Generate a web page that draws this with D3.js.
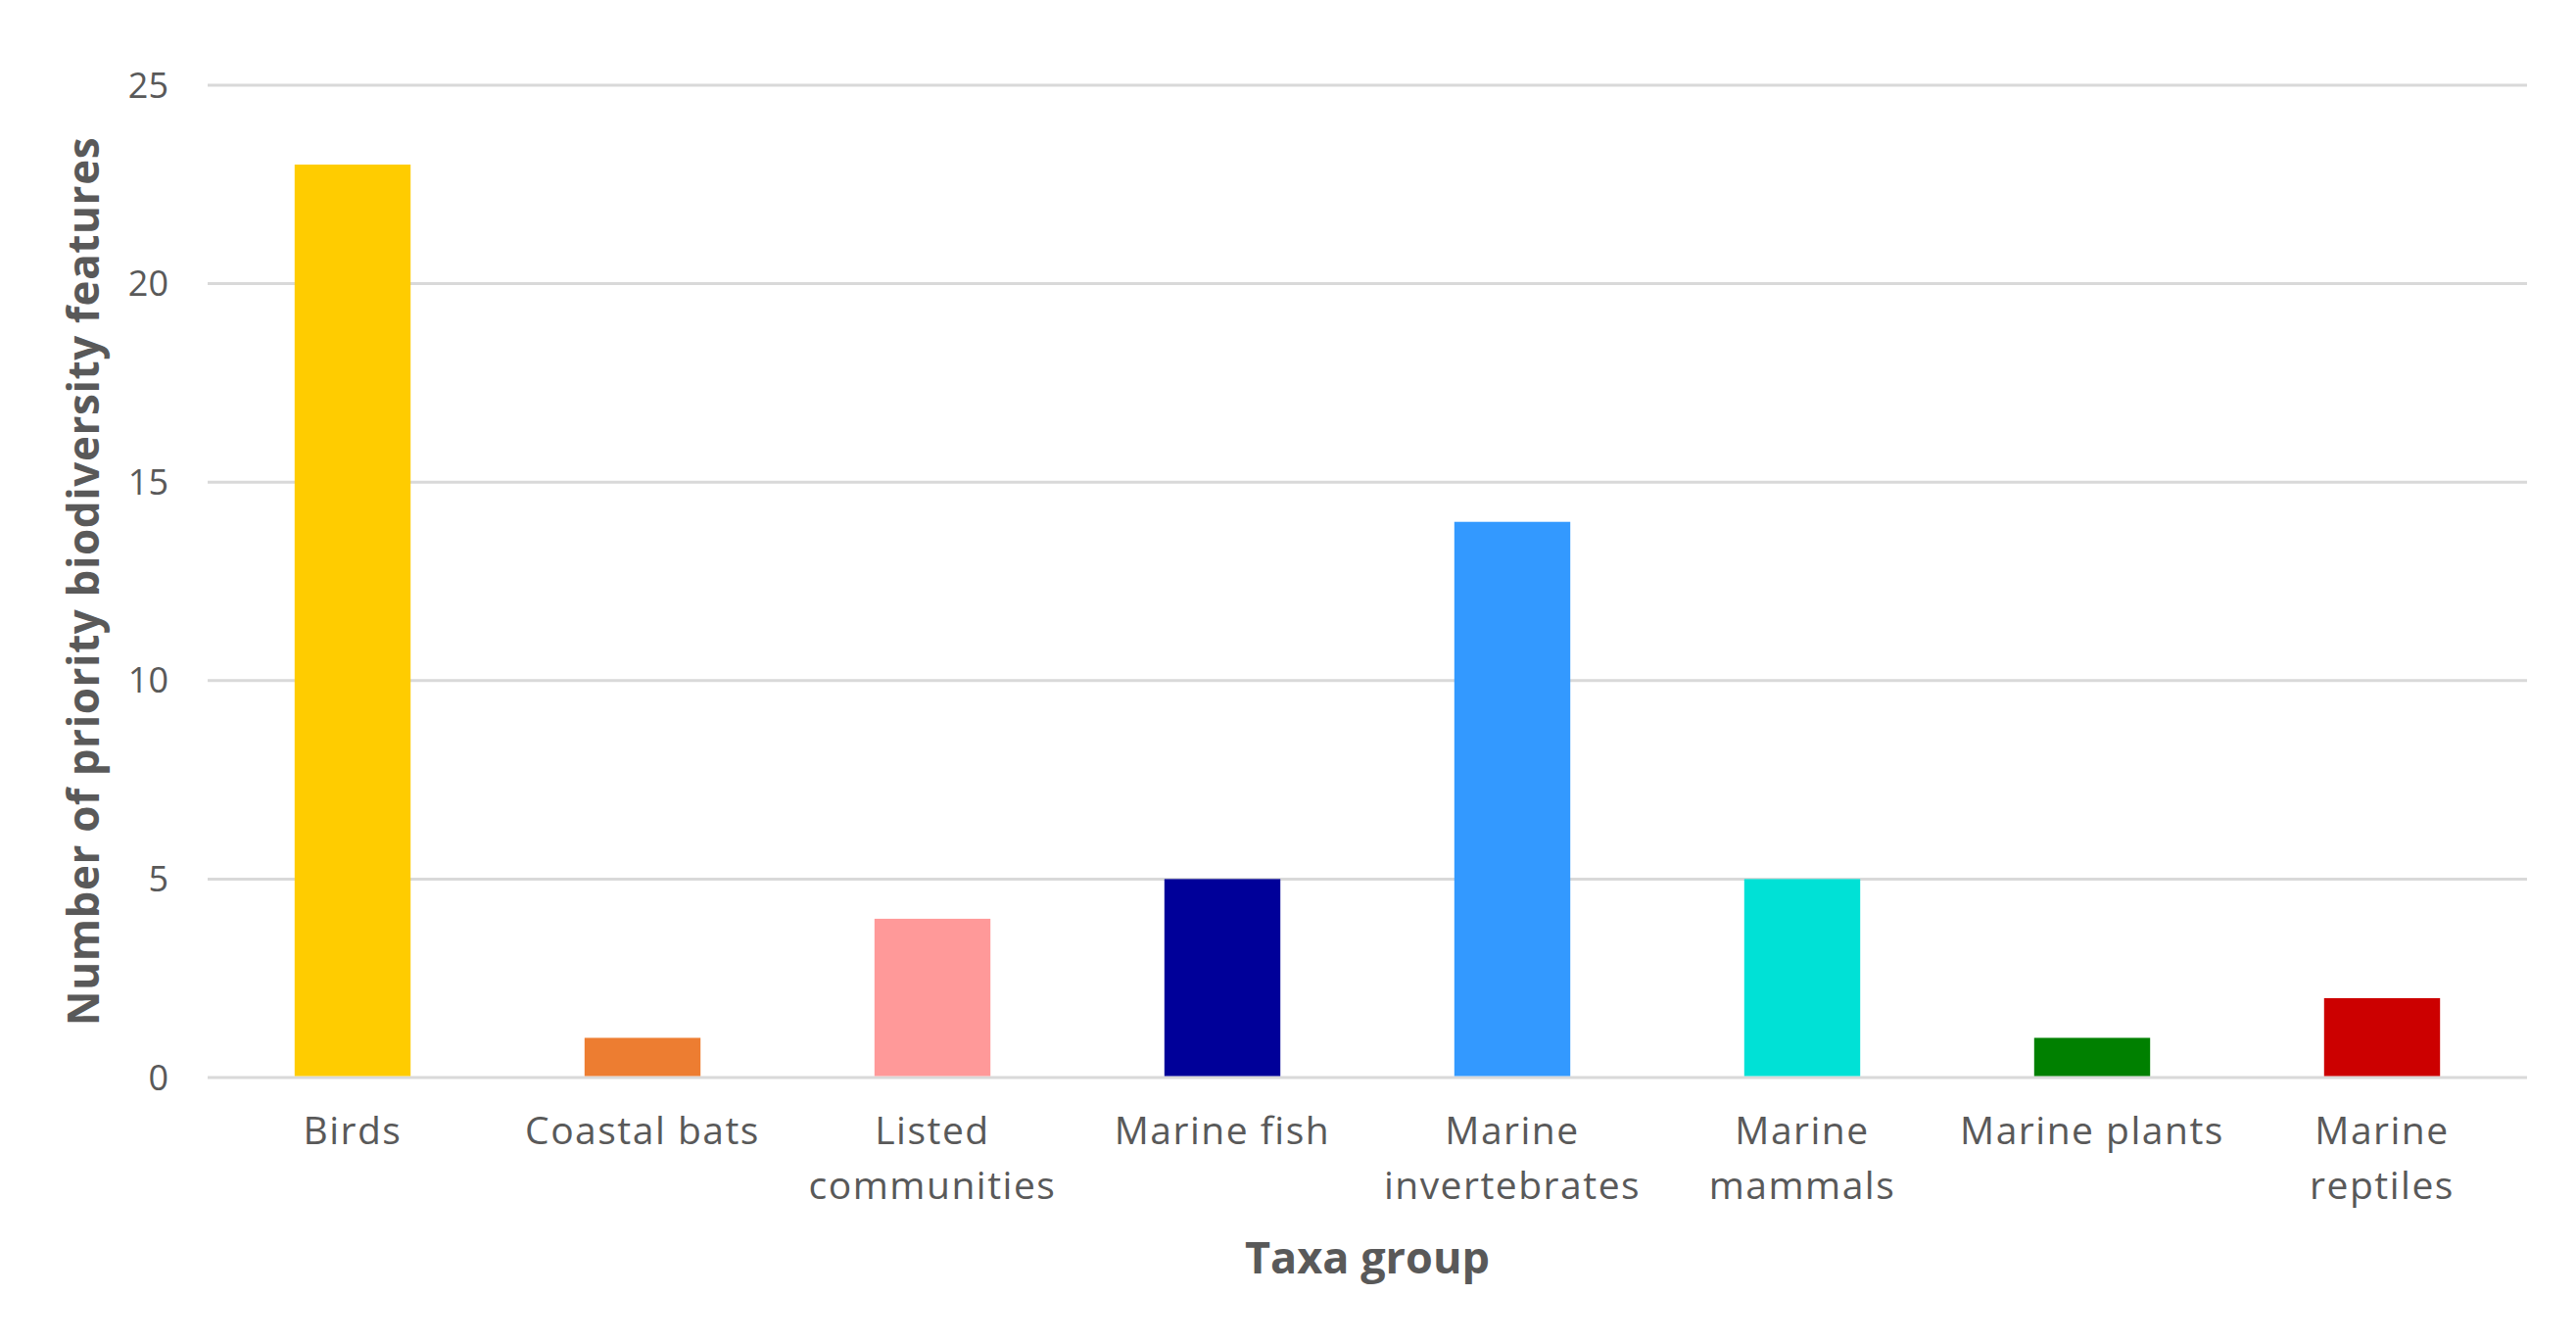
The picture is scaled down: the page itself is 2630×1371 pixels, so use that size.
<!DOCTYPE html>
<html>
<head>
<meta charset="utf-8">
<script src="https://cdn.jsdelivr.net/npm/d3@7"></script>
<style>
  body { margin: 0; background: #fff; }
  svg { display: block; }
</style>
</head>
<body>
<div id="chart"></div>
<script>
// data
const categories = ["Birds", "Coastal bats", "Listed communities", "Marine fish",
  "Marine invertebrates", "Marine mammals", "Marine plants", "Marine reptiles"];
const counts = [23, 1, 4, 5, 14, 5, 1, 2];
const barColors = ["#FFCC00", "#ED7D31", "#FF9999", "#000099",
  "#3399FF", "#00E1D6", "#008000", "#CC0000"];
const yTicks = [0, 5, 10, 15, 20, 25];
// wrapped label lines, as in the picture
const labelLines = [["Birds"], ["Coastal bats"], ["Listed", "communities"], ["Marine fish"],
  ["Marine", "invertebrates"], ["Marine", "mammals"], ["Marine plants"], ["Marine", "reptiles"]];

const width = 2630, height = 1371;
const margin = {top: 87, right: 50, bottom: 271, left: 212};

const svg = d3.select("#chart")
  .append("svg")
    .attr("width", width)
    .attr("height", height);

const x = d3.scaleBand()
  .domain(categories)
  .range([margin.left, width - margin.right])
  .paddingInner(0.6)
  .paddingOuter(0.3);

const y = d3.scaleLinear()
  .domain([0, 25])
  .range([height - margin.bottom, margin.top]);

const textColor = "#595959";
const font = "'Open Sans', sans-serif";

// gridlines
svg.append("g")
  .selectAll("line")
  .data(yTicks)
  .join("line")
    .attr("x1", margin.left)
    .attr("x2", width - margin.right)
    .attr("y1", d => y(d))
    .attr("y2", d => y(d))
    .attr("stroke", "#D9D9D9")
    .attr("stroke-width", 3);

// y tick labels
svg.append("g")
  .selectAll("text")
  .data(yTicks)
  .join("text")
    .attr("x", 172)
    .attr("y", d => y(d))
    .attr("dy", "0.35em")
    .attr("text-anchor", "end")
    .attr("fill", textColor)
    .style("font-family", font)
    .style("font-size", "36px")
    .text(d => d);

// bars
svg.append("g")
  .selectAll("rect")
  .data(categories)
  .join("rect")
    .attr("x", d => x(d))
    .attr("y", (d, i) => y(counts[i]))
    .attr("width", x.bandwidth())
    .attr("height", (d, i) => y(0) - y(counts[i]) - 1.5)
    .attr("fill", (d, i) => barColors[i]);

// x category labels
const xl = svg.append("g")
  .selectAll("text")
  .data(categories)
  .join("text")
    .attr("x", d => x(d) + x.bandwidth() / 2)
    .attr("y", 1168)
    .attr("text-anchor", "middle")
    .attr("fill", textColor)
    .style("font-family", font)
    .style("font-size", "39px")
    .style("letter-spacing", "1.5px");

xl.selectAll("tspan")
  .data((d, i) => labelLines[i])
  .join("tspan")
    .attr("x", function() { return d3.select(this.parentNode).attr("x"); })
    .attr("dy", (d, i) => i === 0 ? 0 : 56)
    .text(d => d);

// axis titles
svg.append("text")
  .attr("x", (margin.left + width - margin.right) / 2)
  .attr("y", 1300)
  .attr("text-anchor", "middle")
  .attr("fill", textColor)
  .style("font-family", font)
  .style("font-weight", "bold")
  .style("font-size", "45px")
  .text("Taxa group");

svg.append("text")
  .attr("transform", `translate(101, ${(y(0) + y(25)) / 2}) rotate(-90)`)
  .attr("text-anchor", "middle")
  .attr("fill", textColor)
  .style("font-family", font)
  .style("font-weight", "bold")
  .style("font-size", "44px")
  .style("letter-spacing", "0.6px")
  .text("Number of priority biodiversity features");
</script>
</body>
</html>
